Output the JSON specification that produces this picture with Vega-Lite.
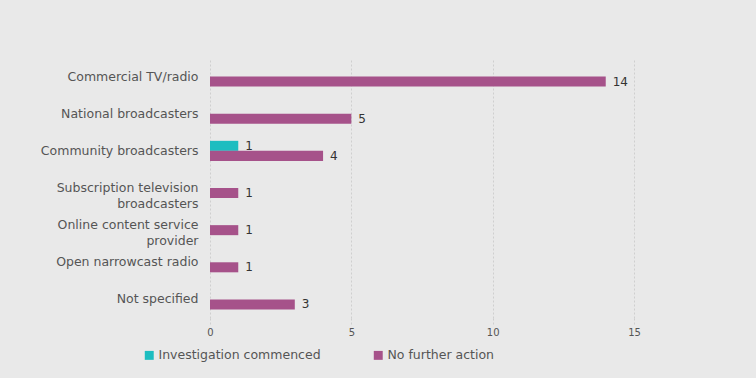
{
  "$schema": "https://vega.github.io/schema/vega-lite/v6.json",
  "width": 424,
  "height": 260,
  "autosize": {"type": "none"},
  "padding": {"left": 210, "top": 58, "right": 122, "bottom": 60},
  "background": "#e9e9e9",
  "data": {
    "values": [
      {"category": "Commercial TV/radio", "series": "No further action", "value": 14},
      {"category": "National broadcasters", "series": "No further action", "value": 5},
      {"category": "Community broadcasters", "series": "Investigation commenced", "value": 1},
      {"category": "Community broadcasters", "series": "No further action", "value": 4},
      {"category": "Subscription television broadcasters", "series": "No further action", "value": 1},
      {"category": "Online content service provider", "series": "No further action", "value": 1},
      {"category": "Open narrowcast radio", "series": "No further action", "value": 1},
      {"category": "Not specified", "series": "No further action", "value": 3}
    ]
  },
  "config": {
    "view": {"stroke": null},
    "font": "DejaVu Sans"
  },
  "encoding": {
    "y": {
      "field": "category",
      "type": "nominal",
      "sort": null,
      "scale": {"paddingInner": 0.46, "paddingOuter": 0.23},
      "axis": {
        "title": null,
        "domain": false,
        "ticks": false,
        "grid": false,
        "labelPadding": 12,
        "labelFontSize": 12.5,
        "labelColor": "#555555",
        "labelLineHeight": 16,
        "labelExpr": "datum.label == 'Subscription television broadcasters' ? ['Subscription television', 'broadcasters'] : datum.label == 'Online content service provider' ? ['Online content service', 'provider'] : datum.label"
      }
    },
    "yOffset": {
      "field": "series",
      "type": "nominal",
      "scale": {"domain": ["Investigation commenced", "No further action"]}
    },
    "x": {
      "field": "value",
      "type": "quantitative",
      "scale": {"domain": [0, 15]},
      "axis": {
        "title": null,
        "values": [0, 5, 10, 15],
        "domain": false,
        "grid": true,
        "gridColor": "#cfcfcf",
        "gridDash": [2, 2],
        "tickColor": "#cfcfcf",
        "tickDash": [2, 2],
        "tickSize": 6,
        "labelFlush": false,
        "labelFontSize": 10,
        "labelColor": "#555555",
        "labelPadding": 3
      }
    }
  },
  "layer": [
    {
      "mark": {"type": "bar"},
      "encoding": {
        "color": {
          "field": "series",
          "type": "nominal",
          "scale": {"domain": ["Investigation commenced", "No further action"], "range": ["#1dbdc0", "#a6528a"]},
          "legend": {
            "title": null,
            "orient": "none",
            "legendX": -67,
            "legendY": 291,
            "direction": "horizontal",
            "symbolType": "square",
            "symbolSize": 80,
            "symbolStrokeWidth": 0,
            "labelFontSize": 12.5,
            "labelColor": "#555555",
            "labelLimit": 400,
            "columnPadding": 51,
            "labelOffset": 3
          }
        }
      }
    },
    {
      "mark": {"type": "text", "align": "left", "dx": 7, "fontSize": 12, "color": "#333333"},
      "encoding": {"text": {"field": "value", "type": "quantitative"}}
    }
  ]
}
